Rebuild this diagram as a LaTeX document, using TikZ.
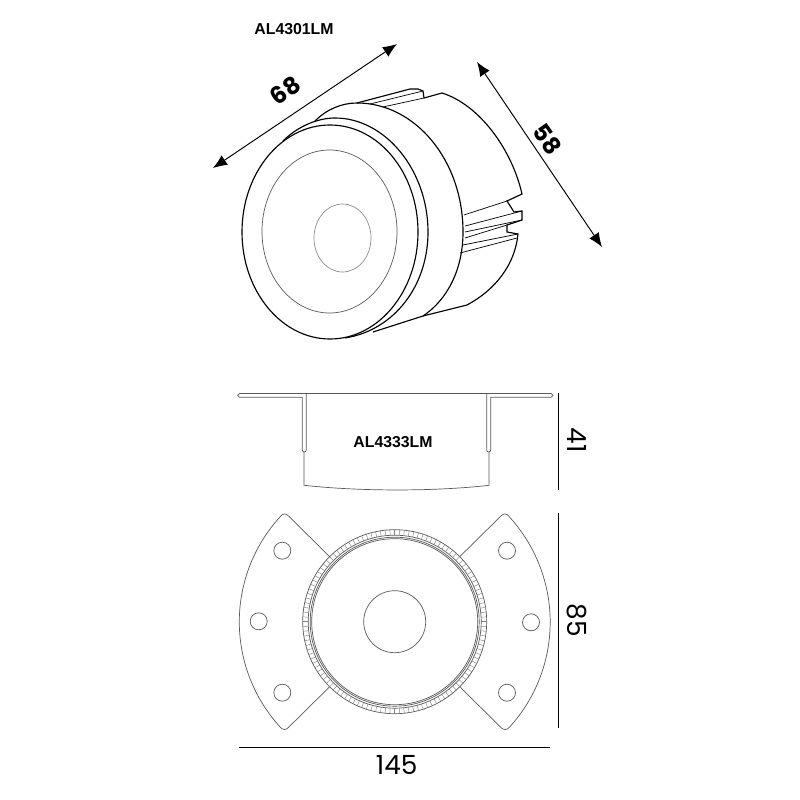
\documentclass[tikz,border=0pt]{standalone}
\usepackage{fontspec}
\setmainfont{Liberation Sans}
\newfontfamily\dimfont{Poppins}
\usetikzlibrary{arrows.meta}
\tikzstyle{outline}=[draw=black,line width=0.65pt]
\tikzstyle{thinline}=[draw=black!65,line width=0.4pt]
\tikzstyle{dimarrow}=[draw=black,line width=0.55pt,{Latex[length=8pt,width=6.5pt]}-{Latex[length=8pt,width=6.5pt]}]
\tikzstyle{dimbar}=[draw=black,line width=0.9pt]
\tikzstyle{code}=[font=\bfseries\fontsize{9}{9}\selectfont,inner sep=0pt]
\tikzstyle{dimtext}=[font=\dimfont\fontsize{15}{15}\selectfont,inner sep=0pt]
\tikzstyle{dimtextb}=[font=\dimfont\bfseries\fontsize{13.5}{13.5}\selectfont,inner sep=0pt]
\begin{document}
\begin{tikzpicture}[x=0.02cm,y=-0.02cm]
\useasboundingbox (0,0) rectangle (800,800);

% Labels
\node[code] (code1) at (294,29) {AL4301LM};
\node[code] (code2) at (393,442) {AL4333LM};

% Lamp body
\path[outline] (315,121) .. controls (327,109) and (342,103) .. (357,103)
  .. controls (415,103) and (463,160) .. (463,232)
  .. controls (463,270) and (447,300) .. (423,316)
  -- (373,332);
\path[outline] (357,103) -- (410,89) -- (418,89) -- (423,91) -- (424,98) -- (442,93)
  .. controls (480,105) and (512,150) .. (522,194)
  -- (507,201) -- (514,212) -- (522,211) -- (522,220) -- (507,225) -- (507,232) -- (518,234)
  .. controls (515,265) and (495,290) .. (467,305)
  -- (423,316);
\foreach \sx/\sy/\ex/\ey in {370/104/423/91, 383/107/424/98, 464/215/507/201, 465/226/522/211,
    465/232/522/220, 465/238/507/225, 463/245/518/234, 460/253/517/238}
  \path[outline,line width=0.4pt] (\sx,\sy) -- (\ex,\ey);

% Front rings
\path[outline] (330,232) ellipse [x radius=88,y radius=107];
\path[outline] (283,141) .. controls (298,126) and (318,118) .. (335,118)
  .. controls (385,118) and (428,170) .. (428,232)
  .. controls (428,285) and (395,330) .. (345,338);
\path[thinline] (329.5,231.5) ellipse [x radius=67.5,y radius=81.5];
\path[thinline,draw=black!45] (342.5,238) ellipse [x radius=28.5,y radius=34];

% Side view
\path[thinline] (306,393.5) -- (239.5,393.5) arc (-90:-270:1.9) -- (302.3,397.3) -- (302.3,450)
  arc (180:0:2) -- (306.3,394);
\path[thinline] (486.7,393.5) -- (551,393.5) arc (-90:90:1.9) -- (490.7,397.3) -- (490.7,450)
  arc (0:180:2) -- (486.7,394);
\path[thinline] (306,393.5) -- (486.7,393.5);
\path[thinline] (304,452) -- (304,485.3) .. controls (360,491.5) and (435,491.5) .. (489,485.3) -- (489,452);

% Plate
\def\cx{394.7}
\def\cy{621.7}
\begin{scope}[shift={(\cx,\cy)}]
  \path[thinline] (0,0) circle (31);
  \path[thinline] (0,0) circle (92);
  \path[thinline] (0,0) circle (86.5);
  \path[thinline] (0,0) circle (84.5);
  \path[thinline] (0,0) circle (83);
  \foreach \a in {0,3,...,357}
    \path[thinline,draw=black!50,line width=0.25pt] (\a:86.5) -- (\a:92);
  % wings
  \path[thinline] (-65,-65) -- (-106.5,-106) .. controls (-109,-108.5) and (-112,-108.5) .. (-114.5,-105)
    arc (-137.5:-180:155.7) arc (180:137.5:155.7)
    .. controls (-112,108.5) and (-109,108.5) .. (-106.5,106) -- (-65,65);
  \path[thinline] (65,-65) -- (106.5,-106) .. controls (109,-108.5) and (112,-108.5) .. (114.5,-105)
    arc (-42.5:0:156) arc (0:42.5:156)
    .. controls (112,108.5) and (109,108.5) .. (106.5,106) -- (65,65);
\end{scope}
\foreach \pos/\name in {{(282.3,550.7)/h1},{(258.7,621.3)/h2},{(282.3,692.7)/h3},{(507,550.7)/h4},{(531,622.3)/h5},{(507,692.7)/h6}}
  \path[thinline] \pos circle (8.5);

% Dimensions
\coordinate (a68) at (213,168);
\coordinate (b68) at (397,44);
\coordinate (a58) at (477,62);
\coordinate (b58) at (602,247);
\coordinate (a41) at (558.3,393);
\coordinate (b41) at (558.3,490);
\coordinate (a85) at (558.3,513.3);
\coordinate (b85) at (558.3,728.3);
\coordinate (a145) at (239.3,747.3);
\coordinate (b145) at (550,747.3);
\path[dimarrow] (a68) -- (b68);
\path[dimarrow] (a58) -- (b58);
\foreach \source/\dest in {a41/b41,a85/b85,a145/b145}
  \path[dimbar] (\source) -- (\dest);

\node[dimtextb,rotate=35] (t68) at (285.5,90.5) {68};
\node[dimtextb,rotate=-55] (t58) at (547.5,139.5) {58};
\node[dimtext,rotate=-90] (t41) at (576.7,440) {41};
\node[dimtext,rotate=-90] (t85) at (576.7,620) {85};
\node[dimtext] (t145) at (396.7,765) {145};
\end{tikzpicture}
\end{document}
